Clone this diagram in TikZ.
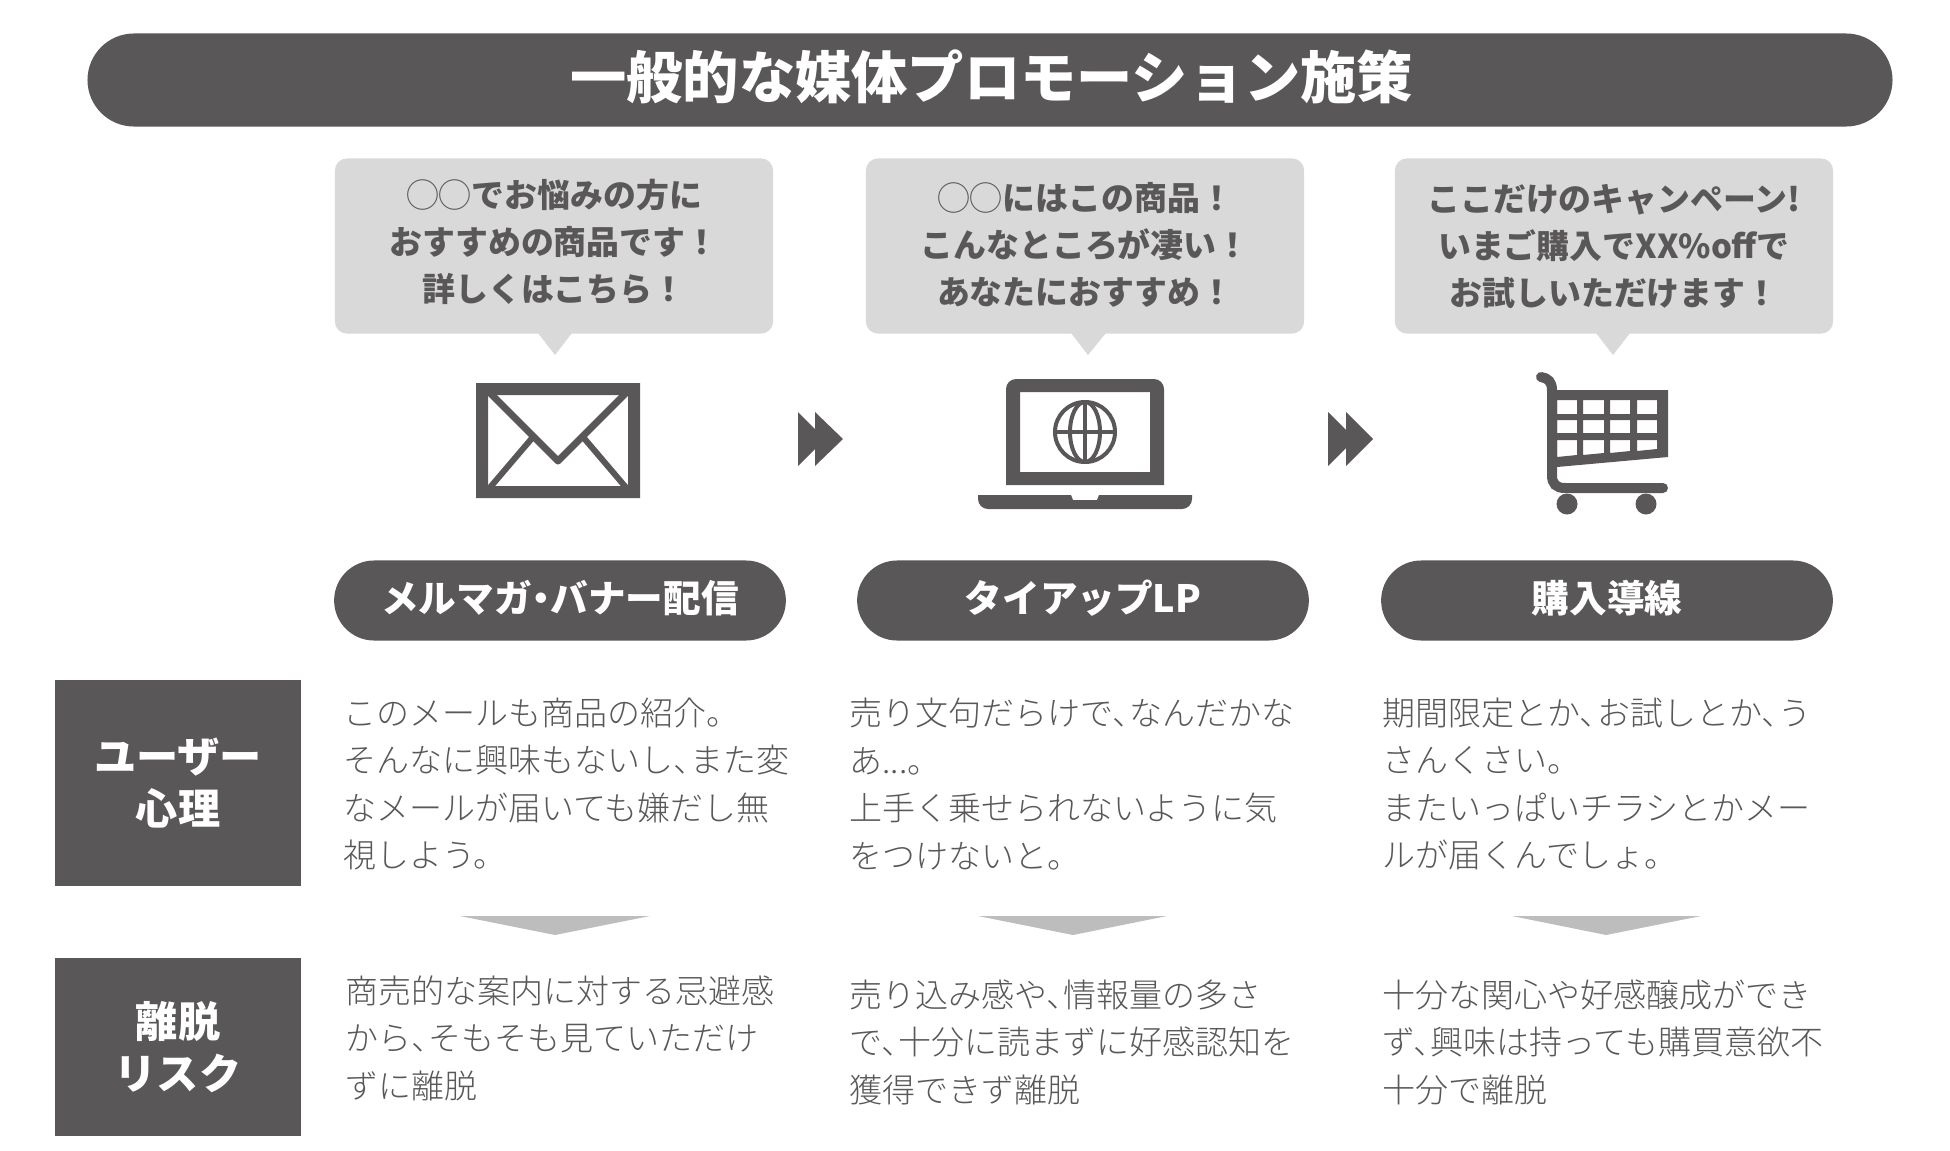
\documentclass[tikz,border=0pt]{standalone}
\usepackage{fontspec}
\setmainfont{Noto Sans CJK JP}
\newfontfamily\jplight{Noto Sans CJK JP Light}
\usepackage{tikz}
\definecolor{darkgr}{HTML}{595757}
\definecolor{bubgr}{HTML}{D9D9D9}
\definecolor{arrgr}{HTML}{BDBDBD}
\newcommand{\tn}{、\hspace{-0.48em}}

\begin{document}
\begin{tikzpicture}[
  x=0.01cm, y=-0.01cm,
  bar/.style={fill=darkgr, rounded corners=0.465cm, minimum width=18.04cm, minimum height=0.93cm, inner sep=0pt, text=white, font=\fontsize{16pt}{20pt}\selectfont\bfseries},
  bubble/.style={fill=bubgr, rounded corners=0.12cm, minimum width=4.38cm, minimum height=1.75cm, inner sep=0pt},
  bubtxt/.style={inner sep=0pt, align=center, text=darkgr, font=\fontsize{9.35pt}{13.4pt}\selectfont\bfseries},
  tail/.style={fill=bubgr},
  pill/.style={fill=darkgr, rounded corners=0.4cm, minimum width=4.515cm, minimum height=0.8cm, inner sep=0pt, text=white, font=\fontsize{10.7pt}{13pt}\selectfont\bfseries},
  sidebox/.style={fill=darkgr, minimum width=2.465cm, inner sep=0pt, align=center, text=white, font=\fontsize{12pt}{14.9pt}\selectfont\bfseries},
  bodytxt/.style={anchor=west, inner sep=0pt, align=left, text=darkgr, font=\fontsize{9.38pt}{13.5pt}\selectfont\jplight},
  icon/.style={fill=darkgr},
  iconline/.style={draw=darkgr, line width=0.04cm},
  downarr/.style={fill=arrgr},
]
\useasboundingbox (0,0) rectangle (1950,1151);

% Title
\node[bar] (title) at (990, 80) {\raisebox{3.4pt}{\hspace{1pt}一般的な媒体プロモーション施策}};

% Bubbles
\node[bubble] (bub1) at (554, 246) {};
\node[bubble] (bub2) at (1085, 246) {};
\node[bubble] (bub3) at (1614, 246) {};
\fill[tail] (538,333) -- (572,333) -- (555,355) -- cycle;
\fill[tail] (1071,333) -- (1106,333) -- (1088,355) -- cycle;
\fill[tail] (1596,333) -- (1630,333) -- (1613,355) -- cycle;
\node[bubtxt] (bubtxt1) at (554, 242) {{\mdseries ◯◯}でお悩みの方に\\おすすめの商品です！\\詳しくはこちら！};
\node[bubtxt] (bubtxt2) at (1085, 245) {{\mdseries ◯◯}にはこの商品！\\こんなところが凄い！\\あなたにおすすめ！};
\node[bubtxt] (bubtxt3) at (1614, 246.5) {ここだけのキャンペーン!\\いまご購入でXX\%offで\\お試しいただけます！};

% Envelope
\fill[icon, even odd rule] (476,383) rectangle (640,498) (488,395) rectangle (628,486);
\draw[darkgr, line width=0.07cm, line join=round] (487,390) -- (558,461) -- (629,390);
\draw[darkgr, line width=0.06cm] (487,491) -- (533,437);
\draw[darkgr, line width=0.06cm] (629,491) -- (583,437);

% Double arrows
\fill[icon] (798,412) -- (825,439) -- (798,466) -- cycle;
\fill[icon] (815,412) -- (843,439) -- (815,466) -- cycle;
\fill[icon] (1328,412) -- (1355,439) -- (1328,466) -- cycle;
\fill[icon] (1346,412) -- (1373,439) -- (1346,466) -- cycle;

% Laptop
\fill[icon, even odd rule] (1006,485) -- (1006,389) arc[start angle=180, end angle=270, radius=10] -- (1154,379) arc[start angle=270, end angle=360, radius=10] -- (1164,485) -- cycle (1020,392) rectangle (1150,472);
\fill[icon] (978,495) -- (1071,495) -- (1073,500) -- (1097,500) -- (1099,495) -- (1192,495) -- (1192,499) arc[start angle=0, end angle=90, radius=10] -- (988,509) arc[start angle=90, end angle=180, radius=10] -- cycle;
\draw[iconline] (1085,432) circle[radius=30];
\draw[iconline] (1085,432) ellipse[x radius=15, y radius=30];
\draw[iconline] (1085,402) -- (1085,462);
\draw[iconline] (1055,432) -- (1115,432);

% Cart
\fill[icon, even odd rule] (1557,390) -- (1668,390) -- (1668,457) -- (1557,467) -- cycle
  (1557,400) rectangle (1577,414) (1583,400) rectangle (1604,414) (1610,400) rectangle (1630,414) (1637,400) rectangle (1657,414)
  (1557,420) rectangle (1577,433) (1583,420) rectangle (1604,433) (1610,420) rectangle (1630,433) (1637,420) rectangle (1657,433)
  (1557,440) -- (1577,440) -- (1577,455) -- (1557,457) -- cycle
  (1583,440) -- (1604,440) -- (1604,453) -- (1583,455) -- cycle
  (1610,440) -- (1630,440) -- (1630,451) -- (1610,453) -- cycle
  (1637,440) -- (1657,440) -- (1657,449) -- (1637,451) -- cycle;
\draw[darkgr, line width=0.1cm, line cap=round] (1541,377) .. controls (1548,378) and (1552,382) .. (1552,390) -- (1552,475) .. controls (1552,484) and (1556,488) .. (1565,488) -- (1663,488);
\fill[icon] (1567,504) circle[radius=10.5];
\fill[icon] (1646,504) circle[radius=10.5];

% Pills
\node[pill] (pill1) at (560, 600.5) {\raisebox{2.4pt}{メルマガ\hspace{-0.25em}・\hspace{-0.25em}バナー配信}};
\node[pill] (pill2) at (1083, 600.5) {\raisebox{2.4pt}{タイアップLP}};
\node[pill] (pill3) at (1607, 600.5) {\raisebox{2.4pt}{購入導線}};

% Side labels
\node[sidebox, minimum height=2.06cm] (psych) at (178, 783) {ユーザー\\心理};
\node[sidebox, minimum height=1.78cm] (risk) at (178, 1047) {離脱\\リスク};

% Upper texts
\node[bodytxt] (psych1) at (343, 784) {このメールも商品の紹介。\\そんなに興味もないし\tn また変\\なメールが届いても嫌だし無\\視しよう。};
\node[bodytxt] (psych2) at (849, 784) {売り文句だらけで\tn なんだかな\\あ...。\\上手く乗せられないように気\\をつけないと。};
\node[bodytxt] (psych3) at (1382, 784) {期間限定とか\tn お試しとか\tn う\\さんくさい。\\またいっぱいチラシとかメー\\ルが届くんでしょ。};

% Down arrows
\fill[downarr] (460,916) -- (650,916) -- (555,935) -- cycle;
\fill[downarr] (978,916) -- (1167,916) -- (1073,935) -- cycle;
\fill[downarr] (1512,916) -- (1701,916) -- (1606,935) -- cycle;

% Lower texts
\node[bodytxt] (risk1) at (345, 1038) {商売的な案内に対する忌避感\\から\tn そもそも見ていただけ\\ずに離脱};
\node[bodytxt] (risk2) at (849, 1042) {売り込み感や\tn 情報量の多さ\\で\tn 十分に読まずに好感認知を\\獲得できず離脱};
\node[bodytxt] (risk3) at (1382, 1042) {十分な関心や好感醸成ができ\\ず\tn 興味は持っても購買意欲不\\十分で離脱};
\end{tikzpicture}
\end{document}
